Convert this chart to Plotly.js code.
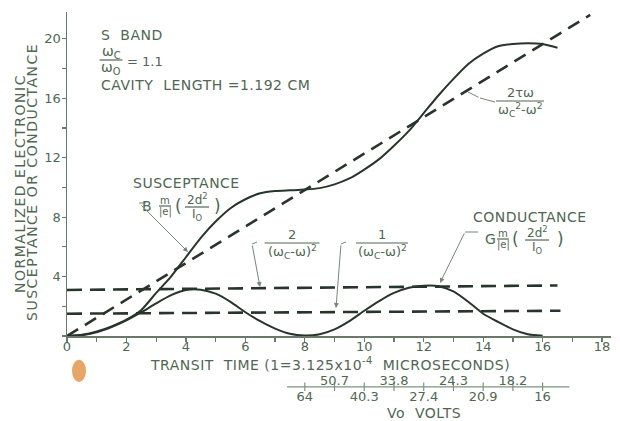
<!DOCTYPE html>
<html><head><meta charset="utf-8">
<script src="https://cdn.plot.ly/plotly-3.0.1.min.js"></script>
<style>html,body{margin:0;padding:0;background:#fff}#chart{width:620px;height:421px}</style>
</head><body><div id="chart"></div>
<script>
// ---- data ----
const transitB = [0,0.5,1,1.5,2,2.5,3,3.5,4,4.5,5,5.5,6,6.5,7,7.5,8,8.5,9,9.5,10,10.5,11,11.5,12,12.5,13,13.5,14,14.5,15,15.5,16,16.5];
const susceptance = [0,0.08,0.3,0.65,1.1,1.75,2.9,4.0,5.3,6.6,7.7,8.6,9.2,9.6,9.75,9.8,9.85,9.95,10.2,10.6,11.2,11.9,12.8,13.8,15.0,16.2,17.3,18.3,19.0,19.5,19.65,19.7,19.65,19.4];
const transitG = [0,0.5,1,1.5,2,2.5,3,3.5,4,4.5,5,5.5,6,6.5,7,7.5,8,8.5,9,9.5,10,10.5,11,11.5,12,12.5,13,13.5,14,14.5,15,15.5,16];
const conductance = [0,0.05,0.25,0.6,1.05,1.6,2.2,2.75,3.1,3.12,2.85,2.3,1.6,1.0,0.5,0.15,0.03,0.12,0.45,1.0,1.7,2.35,2.9,3.25,3.38,3.35,3.0,2.3,1.5,0.95,0.45,0.12,0.02];
const lineT = [0, 17.6];
const lineB = [0, 21.6];            // 2τω/(ωc²-ω²)
const level2T = [0, 16.5];
const level2 = [3.1, 3.4];          // 2/(ωc-ω)²
const level1T = [0, 16.6];
const level1 = [1.5, 1.7];          // 1/(ωc-ω)²
const voltLineT = [7.4, 16.9];
const voltTickT = [8,9,10,11,12,13,14,15,16];
const voltTopT = [9,11,13,15];
const voltTop = ['50.7','33.8','24.3','18.2'];
const voltBotT = [8,10,12,14,16];
const voltBot = ['64','40.3','27.4','20.9','16'];
const xTickVals = [0,2,4,6,8,10,12,14,16,18];
const yTickVals = [4,8,12,16,20];

// ---- styling ----
const F = 'DejaVu Sans, sans-serif';
const ink = '#27352a', txtc = '#506752', axc = '#6b786c', leadc = '#78867a', voltc = '#7d957f';
const XR = 18.3, YR = 21.8;
const X = p => (p - 67) / 544 * XR;
const Y = p => (336 - p) / 324 * YR;
const PX = p => (p - 67) / 544;
const PY = p => (416 - p) / 404;

const annotations = [], shapes = [];
function T(px, py, text, size, xanchor, extra) {
  annotations.push(Object.assign({x: X(px), y: Y(py), xref: 'x', yref: 'y', text: text, showarrow: false,
    xanchor: xanchor || 'center', yanchor: 'middle', borderpad: 0,
    font: {family: F, size: size || 14, color: txtc}}, extra || {}));
}
function TP(px, py, text, size, extra) {
  annotations.push(Object.assign({x: PX(px), y: PY(py), xref: 'paper', yref: 'paper', text: text, showarrow: false,
    xanchor: 'center', yanchor: 'middle', borderpad: 0,
    font: {family: F, size: size || 14, color: txtc}}, extra || {}));
}
function bar(x0, x1, py) {
  shapes.push({type: 'line', xref: 'x', yref: 'y', x0: X(x0), x1: X(x1), y0: Y(py), y1: Y(py), line: {color: txtc, width: 1.2}});
}
function frac(cx, cy, num, den, w, size, gap) {
  T(cx, cy - gap, num, size); T(cx, cy + gap, den, size); bar(cx - w / 2, cx + w / 2, cy);
}
function arrow(tx, ty, hx, hy, head) {
  annotations.push({x: X(hx), y: Y(hy), ax: X(tx), ay: Y(ty), axref: 'x', ayref: 'y', xref: 'x', yref: 'y',
    text: '', showarrow: true, arrowhead: head, arrowsize: 1, arrowwidth: 1, arrowcolor: leadc});
}
function seg(x0, y0, x1, y1) {
  shapes.push({type: 'line', xref: 'x', yref: 'y', x0: X(x0), x1: X(x1), y0: Y(y0), y1: Y(y1), line: {color: leadc, width: 1}});
}
const sp = (t, s) => '<span style="letter-spacing:' + s + 'px">' + t + '</span>';

// header text
T(100, 35, sp('S  BAND', 0.5), 14, 'left');
frac(111, 60, 'ω<sub>C</sub>', 'ω<sub>O</sub>', 23, 14, 8);
T(126, 61, '= 1.1', 13, 'left');
T(100, 85, sp('CAVITY  LENGTH =1.192 CM', 0.5), 14, 'left');

// susceptance label
T(186, 183, sp('SUSCEPTANCE', 0.5), 14);
T(147, 206, 'B', 14);
frac(165, 206, 'm', '|e|', 12, 10, 6);
T(178, 206, '(', 17);
frac(197, 207, '2d<sup>2</sup>', 'I<sub>O</sub>', 24, 12, 8);
T(217, 206, ')', 17);
seg(139, 203, 146, 203);
arrow(140, 204, 188, 252, 2);

// 2τω/(ωc²-ω²)
frac(520, 101, '2τω', 'ω<sub>C</sub><sup>2</sup>-ω<sup>2</sup>', 48, 13, 9);
seg(495, 102, 480, 98);
arrow(480, 98, 468, 92, 0);

// 2/(ωc-ω)²
frac(292, 243, '2', '(ω<sub>C</sub>-ω)<sup>2</sup>', 55, 13, 9);
seg(252, 244, 257, 242);
arrow(252, 244, 260, 287, 2);

// 1/(ωc-ω)²
frac(382, 243, '1', '(ω<sub>C</sub>-ω)<sup>2</sup>', 52, 13, 9);
seg(341, 244, 346, 242);
arrow(341, 244, 336, 308, 2);

// conductance label
T(530, 217, sp('CONDUCTANCE', 0.5), 14);
T(490, 239, 'G', 14);
frac(503, 239, 'm', '|e|', 12, 10, 6);
T(515, 239, '(', 17);
frac(537, 240, '2d<sup>2</sup>', 'I<sub>O</sub>', 24, 12, 8);
T(560, 239, ')', 17);
seg(465, 232, 478, 232);
arrow(465, 232, 440, 283, 2);

// axis titles (paper referenced, outside the plot range)
TP(330, 364, sp('TRANSIT  TIME (1=3.125x10<sup>-4</sup>  MICROSECONDS)', 0.5), 14);
TP(424, 413, sp('Vo  VOLTS', 0.5), 14);
TP(20, 184, sp('NORMALIZED ELECTRONIC', 1.5), 14, {textangle: -90});
TP(32, 182, sp('SUSCEPTANCE OR CONDUCTANCE', 1.5), 14, {textangle: -90});

// stain on the scan
shapes.push({type: 'circle', xref: 'paper', yref: 'paper', x0: 0.0092, x1: 0.0349, y0: 0.084, y1: 0.139,
  fillcolor: '#e8a666', line: {width: 0}});

const traces = [
  {x: lineT, y: lineB, mode: 'lines', line: {color: ink, width: 2.6, dash: '13px,8px'}, hoverinfo: 'skip'},
  {x: level2T, y: level2, mode: 'lines', line: {color: ink, width: 2.6, dash: '15px,8px'}, hoverinfo: 'skip'},
  {x: level1T, y: level1, mode: 'lines', line: {color: ink, width: 2.6, dash: '15px,8px'}, hoverinfo: 'skip'},
  {x: transitB, y: susceptance, mode: 'lines', line: {color: ink, width: 2, shape: 'spline', smoothing: 0.6}},
  {x: transitG, y: conductance, mode: 'lines', line: {color: ink, width: 2, shape: 'spline', smoothing: 0.6}},
  // secondary volts scale
  {x: voltLineT, y: voltLineT.map(() => 0), yaxis: 'y2', mode: 'lines', line: {color: voltc, width: 1.2}},
  {x: voltTickT, y: voltTickT.map(() => 0), yaxis: 'y2', mode: 'markers',
    marker: {symbol: 'line-ns-open', size: 6, color: voltc, line: {color: voltc, width: 1.2}}},
  {x: voltTopT, y: voltTopT.map(() => 0.15), yaxis: 'y2', mode: 'text', text: voltTop, cliponaxis: false,
    textposition: 'middle center', textfont: {family: F, size: 13, color: txtc}},
  {x: voltBotT, y: voltBotT.map(() => -0.32), yaxis: 'y2', mode: 'text', text: voltBot, cliponaxis: false,
    textposition: 'middle center', textfont: {family: F, size: 13, color: txtc}}
];

const layout = {
  width: 620, height: 421,
  margin: {l: 67, r: 9, t: 12, b: 5},
  paper_bgcolor: '#ffffff', plot_bgcolor: 'rgba(0,0,0,0)',
  showlegend: false,
  font: {family: F, color: txtc},
  xaxis: {range: [0, XR], domain: [0, 1], anchor: 'y', showgrid: false, zeroline: false,
    showline: true, linecolor: axc, linewidth: 1.5,
    tickmode: 'array', tickvals: xTickVals, ticks: 'outside', ticklen: 4, tickwidth: 1.2, tickcolor: axc,
    ticklabelstandoff: -6,
    minor: {dtick: 1, tick0: 0, ticks: 'outside', ticklen: 4, tickwidth: 1.2, tickcolor: axc},
    tickfont: {family: F, size: 13, color: txtc}},
  xaxis2: {range: [0, XR], overlaying: 'x', anchor: 'y', side: 'bottom', showgrid: false, zeroline: false,
    showline: false, showticklabels: false, tickmode: 'linear', tick0: 0, dtick: 1,
    ticks: 'inside', ticklen: 4, tickwidth: 1.2, tickcolor: axc},
  yaxis: {range: [0, YR], domain: [0.198, 1], anchor: 'x', showgrid: false, zeroline: false,
    showline: true, linecolor: axc, linewidth: 1.5,
    tickmode: 'array', tickvals: yTickVals, ticks: 'outside', ticklen: 4, tickwidth: 1.2, tickcolor: axc,
    ticklabelstandoff: -2,
    minor: {dtick: 2, tick0: 0, ticks: 'outside', ticklen: 4, tickwidth: 1.2, tickcolor: axc},
    tickfont: {family: F, size: 13, color: txtc}},
  yaxis3: {range: [0, YR], overlaying: 'y', anchor: 'x', side: 'left', showgrid: false, zeroline: false,
    showline: false, showticklabels: false, tickmode: 'linear', tick0: 0, dtick: 2,
    ticks: 'inside', ticklen: 4, tickwidth: 1.2, tickcolor: axc},
  yaxis2: {domain: [0, 0.17], range: [-0.85, 1.15], anchor: 'x', visible: false, fixedrange: true},
  annotations: annotations,
  shapes: shapes
};

Plotly.newPlot('chart', traces, layout, {displayModeBar: false, staticPlot: true});
</script></body></html>
